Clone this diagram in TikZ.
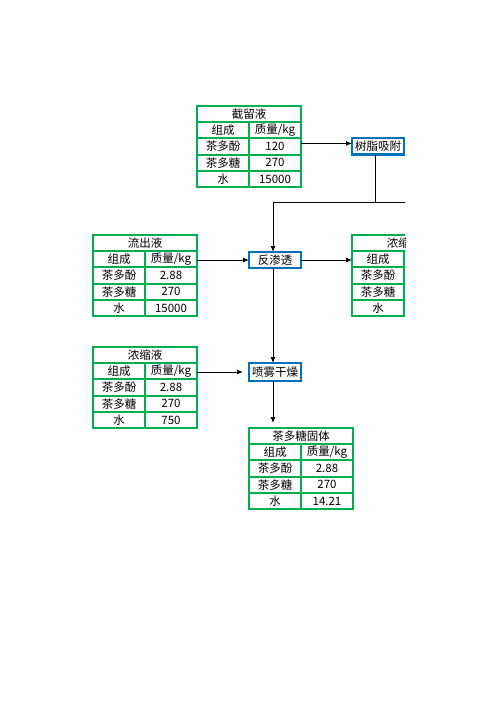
\documentclass[tikz,border=0pt]{standalone}
\usepackage{fontspec}
\setmainfont{Noto Sans CJK SC}
\usetikzlibrary{arrows.meta}
\definecolor{tgreen}{RGB}{0,176,80}
\definecolor{tblue}{RGB}{0,112,192}
\newcommand\gtable[7]{%
 \node[hdrbox] (#1-h) at (#2,#3) {#4};
 \node[cellbox] (#1-a) at (#1-h.south west) {组成};
 \node[cellbox] (#1-b) at (#1-a.north east) {质量/kg};
 \node[cellbox] (#1-c) at (#1-a.south west) {茶多酚};
 \node[cellbox] (#1-d) at (#1-c.north east) {#5};
 \node[cellbox] (#1-e) at (#1-c.south west) {茶多糖};
 \node[cellbox] (#1-f) at (#1-e.north east) {#6};
 \node[cellbox] (#1-g) at (#1-e.south west) {水};
 \node[cellbox] (#1-k) at (#1-g.north east) {#7};
}
\begin{document}
\begin{tikzpicture}[x=1pt,y=-1pt,
  cellbox/.style={draw=tgreen,line width=2pt,minimum width=52pt,minimum height=16.2pt,
    inner sep=0pt,outer sep=0pt,anchor=north west,font=\fontsize{11.5}{12}\selectfont},
  hdrbox/.style={cellbox,minimum width=104pt},
  procbox/.style={draw=tblue,line width=2.5pt,minimum width=52pt,inner sep=0pt,outer sep=0pt,
    anchor=north west,font=\fontsize{11.5}{12}\selectfont},
  arr/.style={-{Latex[length=6pt,width=5pt]},line width=1pt},
  conn/.style={line width=1pt}
]
\fill[white] (0,0) rectangle (496,702);
\useasboundingbox (0,0) rectangle (496,702);
\begin{scope}
\clip (0,0) rectangle (405,702);
\gtable{ta}{197}{106}{截留液}{120}{270}{15000}
\gtable{tb}{93}{235}{流出液}{2.88}{270}{15000}
\gtable{tc}{352}{235}{浓缩液}{}{}{}
\gtable{td}{93}{347}{浓缩液}{2.88}{270}{750}
\gtable{te}{249}{428}{茶多糖固体}{2.88}{270}{14.21}
\node[procbox,minimum height=16.5pt] (res) at (352,138.2) {树脂吸附};
\node[procbox,minimum height=16pt] (ro) at (249,252) {反渗透};
\node[procbox,minimum height=18pt] (sp) at (249,363) {喷雾干燥};
\coordinate (j) at (375,202);
\coordinate (jr) at (430,202);
\coordinate (v) at (273,0);
\draw[arr] ([yshift=3pt]res.west -| ta-d.east) -- ([yshift=3pt]res.west);
\draw[conn] (j |- res.south) -- (j) -- (jr);
\draw[arr] (j) -| (v |- ro.north);
\draw[arr] (ro.west -| tb-b.east) -- (ro.west);
\draw[arr] (ro.east) -- (ro.east -| tc-h.west);
\draw[arr] (v |- ro.south) -- (v |- sp.north);
\draw[arr,shorten >=6pt] (sp.west -| td-b.east) -- (sp.west);
\draw[arr,shorten >=5pt] (v |- sp.south) -- (v |- te-h.north);
\end{scope}
\end{tikzpicture}
\end{document}
